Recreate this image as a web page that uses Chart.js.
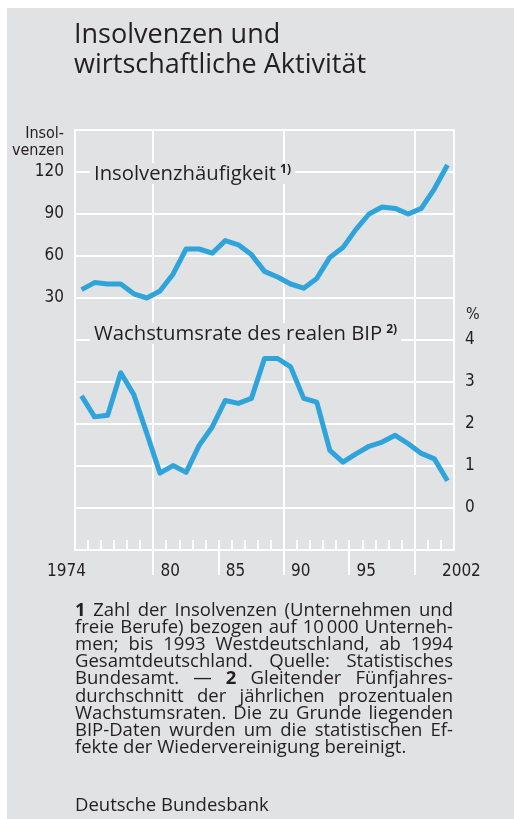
<!DOCTYPE html>
<html>
<head>
<meta charset="utf-8">
<script src="https://cdn.jsdelivr.net/npm/chart.js@4/dist/chart.umd.min.js"></script>
<style>
    html, body { margin: 0; padding: 0; background: #fff; }
    #panel { position: absolute; left: 7px; top: 8px; width: 507px; height: 811px; background: #e1e2e4; }
    #wrap { position: absolute; left: 0; top: 0; width: 514px; height: 819px; }
</style>
</head>
<body>
<div id="panel"></div>
<div id="wrap"><canvas id="myChart" width="514" height="819"></canvas></div>
<script>
// Data (yearly values, plotted at mid-year)
const years = [1974, 1975, 1976, 1977, 1978, 1979, 1980, 1981, 1982, 1983, 1984, 1985, 1986, 1987, 1988,
               1989, 1990, 1991, 1992, 1993, 1994, 1995, 1996, 1997, 1998, 1999, 2000, 2001, 2002];
const insolvencies = [36, 41, 40, 40, 33, 30, 35, 47, 65, 65, 62, 71, 68, 61, 49,
                      45, 40, 37, 44, 59, 66, 79, 90, 95, 94, 90, 94, 108, 125];
const gdpGrowth = [2.67, 2.17, 2.21, 3.22, 2.70, 1.77, 0.83, 1.01, 0.85, 1.49, 1.93, 2.56, 2.49, 2.61, 3.56,
                   3.56, 3.36, 2.61, 2.52, 1.37, 1.09, 1.29, 1.47, 1.57, 1.73, 1.53, 1.30, 1.17, 0.65];

// Axis labels
const leftTicks = [30, 60, 90, 120];
const rightTicks = [0, 1, 2, 3, 4];
const xTickLabels = ['1974', '80', '85', '90', '95', '2002'];
const xTickYears = [1974, 1980, 1985, 1990, 1995, 2002];
const majorYears = [1980, 1985, 1990, 1995, 2000];
const gridYears = [1974, 1980, 1990, 2000, 2003];

const titleLines = ['Insolvenzen und', 'wirtschaftliche Aktivität'];
const seriesNames = ['Insolvenzhäufigkeit', 'Wachstumsrate des realen BIP'];
const footnoteLines = [
    '*1 Zahl der Insolvenzen (Unternehmen und',
    'freie Berufe) bezogen auf 10\u2009000 Unterneh-',
    'men; bis 1993 Westdeutschland, ab 1994',
    'Gesamtdeutschland. Quelle: Statistisches',
    'Bundesamt. — *2 Gleitender Fünfjahres-',
    'durchschnitt der jährlichen prozentualen',
    'Wachstumsraten. Die zu Grunde liegenden',
    'BIP-Daten wurden um die statistischen Ef-',
    'fekte der Wiedervereinigung bereinigt.'
];
const source = 'Deutsche Bundesbank';

const BG = '#e1e2e4';
const INK = '#231f20';
const LINE = '#2ea4da';
const NARROW = '"Liberation Sans Narrow", "DejaVu Sans Condensed", "Liberation Sans", sans-serif';
const SANS = '"Open Sans", "Noto Sans", sans-serif';
const NOTE_SIZE = 18.5;

// Draws title, captions, series labels, year ticks, x labels and footnotes
const decorPlugin = {
    id: 'decor',
    afterDraw(chart) {
        const ctx = chart.ctx;
        const area = chart.chartArea;
        const xs = chart.scales.x;
        const yl = chart.scales.y;
        const yr = chart.scales.y1;
        ctx.save();
        ctx.fillStyle = INK;
        ctx.textBaseline = 'alphabetic';

        // title
        ctx.font = '27px ' + SANS;
        ctx.textAlign = 'left';
        ctx.fillText(titleLines[0], 74, 43);
        ctx.fillText(titleLines[1], 74, 73);

        // axis captions
        ctx.font = '16px ' + NARROW;
        ctx.textAlign = 'right';
        ctx.fillText('Insol-', 64, 138);
        ctx.fillText('venzen', 64, 155);
        ctx.textAlign = 'left';
        ctx.fillText('%', 466, 319);

        // year ticks: short ones inside the plot, longer ones below for every fifth year
        ctx.strokeStyle = '#fff';
        ctx.lineWidth = 2;
        for (let v = 1975; v <= 2002; v++) {
            const px = Math.round(xs.getPixelForValue(v));
            const below = majorYears.includes(v) ? 25 : 0;
            ctx.beginPath();
            ctx.moveTo(px, area.bottom - 10);
            ctx.lineTo(px, area.bottom + below);
            ctx.stroke();
        }

        // x tick labels, set beside the tick marks
        ctx.font = '17px ' + NARROW;
        xTickLabels.forEach((lab, i) => {
            const px = xs.getPixelForValue(xTickYears[i]);
            if (i === 0) {
                ctx.textAlign = 'right';
                ctx.fillText(lab, px + 11, 576);
            } else if (i === xTickLabels.length - 1) {
                ctx.textAlign = 'left';
                ctx.fillText(lab, px + 1, 576);
            } else {
                ctx.textAlign = 'left';
                ctx.fillText(lab, px + 7, 576);
            }
        });

        // series labels with background boxes
        const drawLabel = (text, note, baseY) => {
            ctx.font = '20.3px ' + SANS;
            const w = ctx.measureText(text).width;
            ctx.font = 'bold 12px ' + SANS;
            const wn = ctx.measureText(note).width;
            const x0 = area.left + 19;
            ctx.fillStyle = BG;
            ctx.fillRect(x0 - 4, baseY - 17, w + wn + 12, 21);
            ctx.fillStyle = INK;
            ctx.textAlign = 'left';
            ctx.font = '20.3px ' + SANS;
            ctx.fillText(text, x0, baseY);
            ctx.font = 'bold 12px ' + SANS;
            ctx.fillText(note, x0 + w + 4, baseY - 7);
        };
        drawLabel(seriesNames[0], '1)', yl.getPixelForValue(120) + 8);
        drawLabel(seriesNames[1], '2)', yr.getPixelForValue(4));

        // footnotes, justified
        const left = 75, right = 453;
        footnoteLines.forEach((line, i) => {
            const words = line.split(' ');
            const fonts = words.map(w => (w.startsWith('*') ? 'bold ' : '') + NOTE_SIZE + 'px ' + SANS);
            const texts = words.map(w => w.replace('*', ''));
            const widths = texts.map((t, k) => { ctx.font = fonts[k]; return ctx.measureText(t).width; });
            const total = widths.reduce((a, b) => a + b, 0);
            const last = i === footnoteLines.length - 1;
            let gap;
            if (last) { ctx.font = fonts[0]; gap = ctx.measureText(' ').width; }
            else gap = (right - left - total) / (words.length - 1);
            let x = left;
            ctx.textAlign = 'left';
            texts.forEach((t, k) => {
                ctx.font = fonts[k];
                ctx.fillText(t, x, 616 + i * 17.1);
                x += widths[k] + gap;
            });
        });
        ctx.font = NOTE_SIZE + 'px ' + SANS;
        ctx.fillText(source, 75, 811);
        ctx.restore();
    }
};

const ctx = document.getElementById('myChart').getContext('2d');
const chart = new Chart(ctx, {
    type: 'line',
    data: {
        datasets: [
            {
                label: seriesNames[0],
                data: years.map((y, i) => ({ x: y + 0.5, y: insolvencies[i] })),
                yAxisID: 'y',
                borderColor: LINE,
                borderWidth: 5,
                pointRadius: 0,
                tension: 0,
                borderJoinStyle: 'round'
            },
            {
                label: seriesNames[1],
                data: years.map((y, i) => ({ x: y + 0.5, y: gdpGrowth[i] })),
                yAxisID: 'y1',
                borderColor: LINE,
                borderWidth: 5,
                pointRadius: 0,
                tension: 0,
                borderJoinStyle: 'round'
            }
        ]
    },
    options: {
        responsive: false,
        animation: false,
        layout: { padding: { top: 130, bottom: 239, left: 0, right: 0 } },
        plugins: { legend: { display: false }, tooltip: { enabled: false } },
        scales: {
            x: {
                type: 'linear',
                min: 1974,
                max: 2003,
                afterFit: s => { s.height = 30; },
                ticks: { stepSize: 1, autoSkip: false, display: false },
                grid: {
                    color: c => gridYears.includes(c.tick.value) ? '#fff' : 'rgba(0,0,0,0)',
                    lineWidth: 2,
                    drawTicks: false
                },
                border: { display: true, color: '#fff', width: 2 }
            },
            y: {
                position: 'left',
                min: -150,
                max: 150,
                afterFit: s => { s.width = 75; },
                ticks: {
                    stepSize: 30,
                    padding: 11,
                    color: INK,
                    font: { family: NARROW, size: 17 },
                    callback: v => leftTicks.includes(v) ? v : ''
                },
                grid: {
                    color: c => c.tick.value >= 30 ? '#fff' : 'rgba(0,0,0,0)',
                    lineWidth: 2,
                    drawTicks: false
                },
                border: { display: true, color: '#fff', width: 2 }
            },
            y1: {
                position: 'right',
                min: -1,
                max: 9,
                afterFit: s => { s.width = 60; },
                ticks: {
                    stepSize: 1,
                    padding: 11,
                    color: INK,
                    font: { family: NARROW, size: 17 },
                    callback: v => rightTicks.includes(v) ? v : ''
                },
                grid: {
                    color: c => rightTicks.includes(c.tick.value) ? '#fff' : 'rgba(0,0,0,0)',
                    lineWidth: 2,
                    drawTicks: false
                },
                border: { display: true, color: '#fff', width: 2 }
            }
        }
    },
    plugins: [decorPlugin]
});
</script>
</body>
</html>
